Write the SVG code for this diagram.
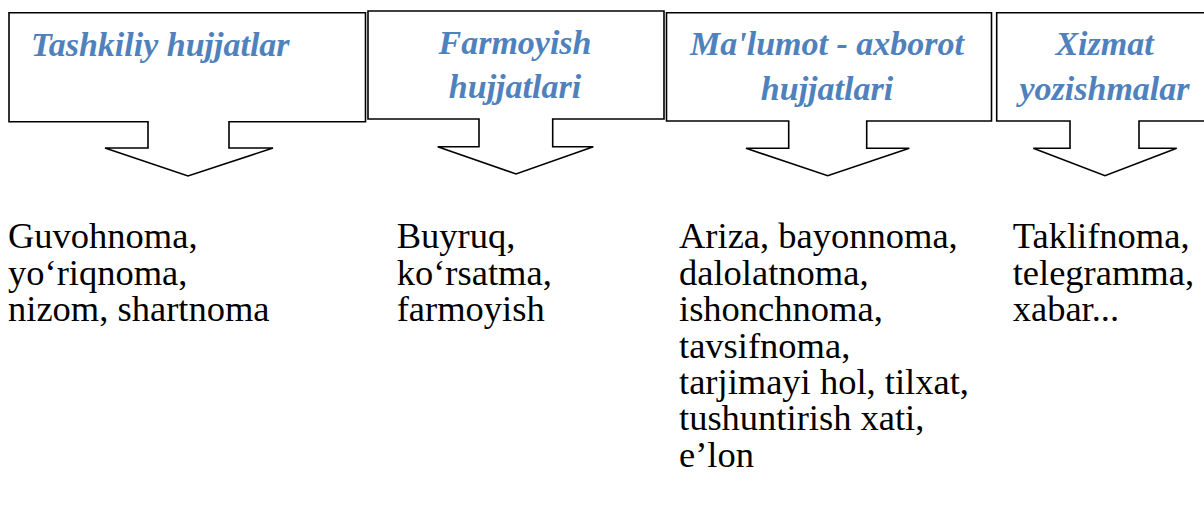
<svg xmlns="http://www.w3.org/2000/svg" width="1204" height="507" viewBox="0 0 1204 507">
<style>
.box{fill:#fff;stroke:#000;stroke-width:1.6;stroke-linejoin:miter}
.ttl{font-size:34px;font-weight:bold;font-style:italic;fill:#4F81BD}
.body{font-size:36.5px;fill:#000}
</style>
<rect width="1204" height="507" fill="#fff"/>
<g id="connectors"></g>
<g id="node-tashkiliy">
<path class="box" d="M9,12.7 H365.5 V121.7 H229 V148 H273 L188,176 L105,148 H148 V121.7 H9 Z"/>
<text class="ttl" font-family="Liberation Serif, DejaVu Serif, serif" x="31" y="56">Tashkiliy hujjatlar</text>
<text class="body" font-family="Liberation Serif, DejaVu Serif, serif"><tspan x="8" y="248.3">Guvohnoma,</tspan><tspan x="8" y="284.7">yo‘riqnoma,</tspan><tspan x="8" y="321">nizom, shartnoma</tspan></text>
</g>
<g id="node-farmoyish">
<path class="box" d="M368,11 H664 V119 H552.7 V146.7 H593.3 L516,174 L437.7,146.7 H479 V119 H368 Z"/>
<text class="ttl" font-family="Liberation Serif, DejaVu Serif, serif" x="515" y="54.3" text-anchor="middle">Farmoyish</text>
<text class="ttl" font-family="Liberation Serif, DejaVu Serif, serif" x="515" y="97.5" text-anchor="middle">hujjatlari</text>
<text class="body" font-family="Liberation Serif, DejaVu Serif, serif"><tspan x="396.7" y="248.3">Buyruq,</tspan><tspan x="396.7" y="284.7">ko‘rsatma,</tspan><tspan x="396.7" y="321">farmoyish</tspan></text>
</g>
<g id="node-malumot">
<path class="box" d="M666.5,12.7 H991.5 V121 H866.7 V148.3 H909.3 L827.7,175.7 L746,148.3 H788.7 V121 H666.5 Z"/>
<text class="ttl" font-family="Liberation Serif, DejaVu Serif, serif" x="827" y="55" text-anchor="middle">Ma'lumot - axborot</text>
<text class="ttl" font-family="Liberation Serif, DejaVu Serif, serif" x="827" y="99.5" text-anchor="middle">hujjatlari</text>
<text class="body" font-family="Liberation Serif, DejaVu Serif, serif"><tspan x="679" y="248.3">Ariza, bayonnoma,</tspan><tspan x="679" y="284.7">dalolatnoma,</tspan><tspan x="679" y="321">ishonchnoma,</tspan><tspan x="679" y="357.5">tavsifnoma,</tspan><tspan x="679" y="394">tarjimayi hol, tilxat,</tspan><tspan x="679" y="430.4">tushuntirish xati,</tspan><tspan x="679" y="466.8">e’lon</tspan></text>
</g>
<g id="node-xizmat">
<path class="box" d="M996.7,12.7 H1215 V121 H1139 V148.3 H1176.7 L1105,175.7 L1033.3,148.3 H1070 V121 H996.7 Z"/>
<text class="ttl" font-family="Liberation Serif, DejaVu Serif, serif" x="1104.5" y="55" text-anchor="middle">Xizmat</text>
<text class="ttl" font-family="Liberation Serif, DejaVu Serif, serif" x="1104.5" y="100" text-anchor="middle">yozishmalar</text>
<text class="body" font-family="Liberation Serif, DejaVu Serif, serif"><tspan x="1012.7" y="248.3">Taklifnoma,</tspan><tspan x="1012.7" y="284.7">telegramma,</tspan><tspan x="1012.7" y="321">xabar...</tspan></text>
</g>
</svg>
